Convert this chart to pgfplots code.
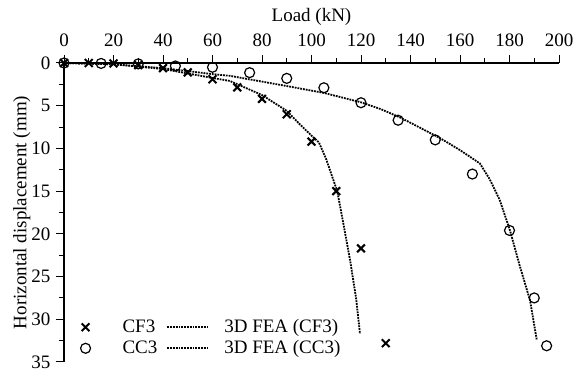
\documentclass[border=0pt]{standalone}
\usepackage{fontspec}
\setmainfont{Liberation Serif}
\usepackage{pgfplots}
\pgfplotsset{compat=1.18}
\pgfplotsset{
  markleg/.style={legend image code/.code={\path[draw=none,fill=none] (-5pt,-3pt) rectangle (27pt,3pt); \draw[##1] plot coordinates {(0pt,0pt)};}},
  lineleg/.style={legend image code/.code={\path[draw=none,fill=none] (0pt,-3pt) rectangle (47pt,3pt); \draw[##1] (0pt,0pt) -- (40pt,0pt);}},
}
\begin{document}
\fontsize{19}{22}\selectfont
\begin{tikzpicture}
\begin{axis}[
  scale only axis, width=495pt, height=299pt,
  xmin=0, xmax=200, ymin=0, ymax=35,
  y dir=reverse,
  axis x line=top, axis y line=left,
  axis line style={-, line width=1.2pt},
  every tick/.style={black, line width=1pt},
  tick align=outside,
  major tick length=8pt, minor tick length=5pt,
  xtick={0,20,...,200}, ytick={0,5,...,35},
  minor x tick num=1, minor y tick num=1,
  /pgf/number format/assume math mode=true,
  xlabel={Load (kN)},
  ylabel={Horizontal displacement (mm)},
  tick label style={font=\fontsize{19}{22}\selectfont},
  xticklabel style={yshift=2pt},
  yticklabel style={xshift=1pt},
  label style={font=\fontsize{19}{22}\selectfont},
  xlabel style={yshift=-5pt},
  ylabel style={at={(axis description cs:-0.085,0.5)}, anchor=center},
  legend columns=2,
  legend cell align=left,
  legend style={draw=none, fill=none, font=\fontsize{19}{22}\selectfont,
    at={(axis description cs:0.027,0.005)}, anchor=south west,
    /tikz/every odd column/.append style={column sep=8pt},
    /tikz/every even column/.append style={column sep=7pt},
    row sep=1pt},
]
\addplot[only marks, mark=x, mark size=5.5pt, line width=2pt, markleg]
  coordinates {(0,0)(10,0)(20,0.05)(30,0.25)(40,0.6)(50,1.1)(60,1.9)(70,2.85)(80,4.2)(90,6.0)(100,9.2)(110,15.0)(120,21.7)(130,32.8)};
\addlegendentry{CF3}
\addplot[densely dotted, line width=1.8pt, no marks, lineleg]
  coordinates {(0,0)(20,0.15)(40,0.7)(60,1.75)(67,2.1)(80,3.75)(90,5.6)(95,7.1)(100,8.5)(103,9.3)(106,11.3)(108,13)(110.4,15)(113,19)(115.6,23.1)(118,27.5)(119.6,31.7)};
\addlegendentry{3D FEA (CF3)}
\addplot[only marks, mark=o, mark size=5pt, line width=1.2pt, markleg]
  coordinates {(0,0)(15,0.05)(30,0.1)(45,0.35)(60,0.5)(75,1.13)(90,1.8)(105,2.9)(120,4.65)(135,6.7)(150,9.0)(165,13.0)(180,19.6)(190,27.5)(195,33.1)};
\addlegendentry{CC3}
\addplot[densely dotted, line width=1.8pt, no marks, lineleg]
  coordinates {(0,0)(20,0.15)(40,0.6)(60,1.3)(67,1.5)(90,2.7)(105,3.5)(120,4.6)(128,5.4)(136,6.4)(144,7.6)(152,8.8)(160,10.2)(168,11.75)(172,13.6)(176,16)(180.2,19.6)(184,23.6)(188.3,27.8)(191,32.4)};
\addlegendentry{3D FEA (CC3)}
\end{axis}
\path (current axis.south west) ++(-64pt,-7pt) rectangle ([shift={(24pt,63pt)}]current axis.north east);
\end{tikzpicture}
\end{document}
